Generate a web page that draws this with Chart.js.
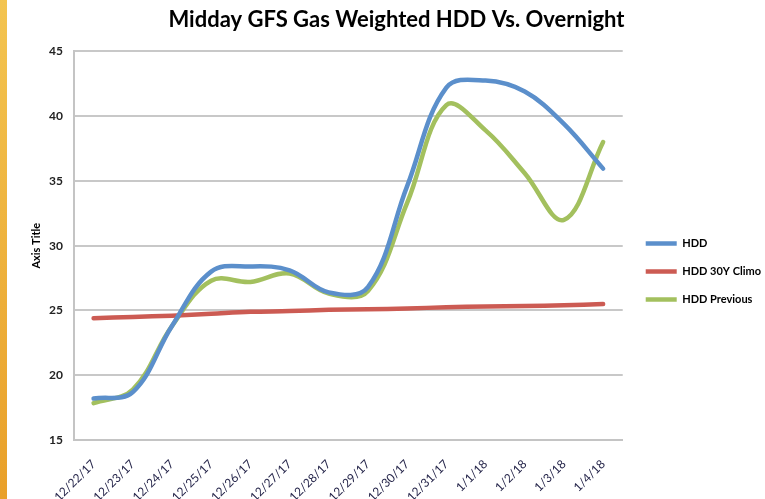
<!DOCTYPE html>
<html>
<head>
<meta charset="utf-8">
<title>Midday GFS Gas Weighted HDD Vs. Overnight</title>
<script src="https://cdn.jsdelivr.net/npm/chart.js@4.4.1/dist/chart.umd.min.js"></script>
<style>
  html, body { margin: 0; padding: 0; background: #fff; }
  #wrap { position: relative; width: 765px; height: 499px; overflow: hidden; }
  #strip { position: absolute; left: 0; top: 0; width: 7px; height: 499px;
    background: linear-gradient(#f3c450, #e9a02a); }
  #chart { position: absolute; left: 0; top: 0; }
</style>
</head>
<body>
<div id="wrap">
  <div id="strip"></div>
  <canvas id="chart" width="765" height="499"></canvas>
</div>
<script>
var labels = ['12/22/17', '12/23/17', '12/24/17', '12/25/17', '12/26/17', '12/27/17', '12/28/17',
  '12/29/17', '12/30/17', '12/31/17', '1/1/18', '1/2/18', '1/3/18', '1/4/18'];

var hdd = [18.2, 18.7, 23.8, 28.0, 28.4, 28.1, 26.4, 26.8, 34.6, 42.2, 42.75, 41.9, 39.4, 35.95];
var climo = [24.4, 24.5, 24.6, 24.75, 24.9, 24.95, 25.05, 25.1, 25.15, 25.25, 25.3, 25.35, 25.4, 25.5];
var previous = [17.85, 18.9, 23.8, 27.3, 27.2, 27.85, 26.3, 26.5, 33.3, 40.85, 38.9, 35.6, 32.0, 38.0];

var yMin = 15, yMax = 45, yStep = 5;

var FONT = 'Lato, "Open Sans", sans-serif';

// nudge the legend: excel puts it a little below the middle and off the plot edge
var legendShift = {
  id: 'legendShift',
  afterLayout: function (chart) {
    chart.legend.top += 22;
    chart.legend.bottom += 22;
    chart.legend.left += 6;
    chart.legend.right += 6;
  }
};

function line(label, data, color) {
  return {
    label: label,
    data: data,
    borderColor: color,
    backgroundColor: color,
    borderWidth: 4.5,
    borderCapStyle: 'round',
    pointRadius: 0,
    pointHoverRadius: 0,
    tension: 0.38,
    fill: false
  };
}

window.onload = function () {
  new Chart(document.getElementById('chart'), {
    type: 'line',
    data: {
      labels: labels,
      datasets: [
        line('HDD', hdd, '#5b8fcb'),
        line('HDD 30Y Climo', climo, '#cc5b53'),
        line('HDD Previous', previous, '#a3c05e')
      ]
    },
    options: {
      responsive: false,
      animation: false,
      layout: { padding: { left: 28, right: 0, top: 0, bottom: 0 } },
      plugins: {
        title: {
          display: true,
          text: 'Midday GFS Gas Weighted HDD Vs. Overnight',
          color: '#000',
          font: { family: FONT, size: 22, weight: 'bold' },
          padding: { top: 7, bottom: 18 }
        },
        legend: {
          position: 'right',
          labels: {
            usePointStyle: true,
            pointStyle: 'line',
            pointStyleWidth: 31,
            boxHeight: 5,
            padding: 17,
            color: '#000',
            font: { family: FONT, size: 11, weight: 'bold' }
          }
        },
        tooltip: { enabled: false }
      },
      scales: {
        x: {
          offset: true,
          afterFit: function (scale) { scale.height = 59; },
          grid: { display: false },
          border: { display: true, color: '#c4c4c4', width: 2 },
          ticks: {
            minRotation: 45,
            maxRotation: 45,
            autoSkip: false,
            padding: 9,
            color: '#25254a',
            font: { family: FONT, size: 12 }
          }
        },
        y: {
          min: yMin,
          max: yMax,
          afterFit: function (scale) { scale.width = 46; },
          ticks: {
            stepSize: yStep,
            padding: 11,
            color: '#222',
            font: { family: FONT, size: 12, weight: 'bold' }
          },
          grid: { color: '#c8c8c8', lineWidth: 2, drawTicks: false },
          border: { display: true, color: '#c4c4c4', width: 2 },
          title: {
            display: true,
            text: 'Axis Title',
            color: '#000',
            padding: { top: 2, bottom: 2 },
            font: { family: FONT, size: 11, weight: 'bold' }
          }
        }
      }
    },
    plugins: [legendShift]
  });
};
</script>
</body>
</html>
